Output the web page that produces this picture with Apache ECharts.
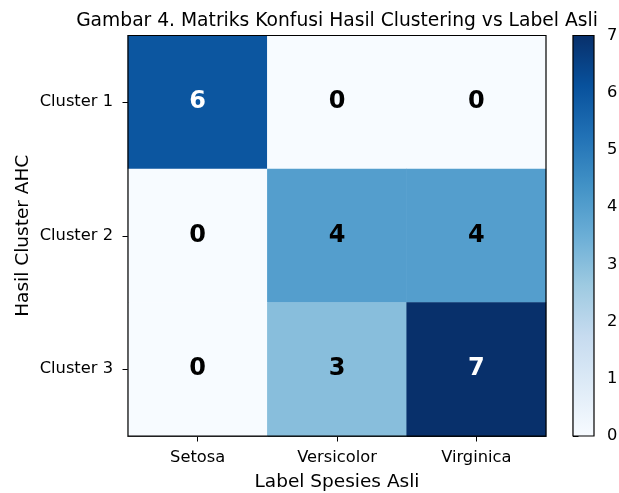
<!DOCTYPE html>
<html>
<head>
<meta charset="utf-8">
<script src="https://cdn.jsdelivr.net/npm/echarts@6/dist/echarts.min.js"></script>
<style>html,body{margin:0;padding:0;background:#fff}#c{width:619px;height:493px}</style>
</head>
<body>
<div id="c"></div>
<script>
const titleText = 'Gambar 4. Matriks Konfusi Hasil Clustering vs Label Asli';
const xCategories = ['Setosa', 'Versicolor', 'Virginica'];
const yCategories = ['Cluster 1', 'Cluster 2', 'Cluster 3'];
const matrix = [
  [6, 0, 0],
  [0, 4, 4],
  [0, 3, 7]
];
const colorbarTicks = [0, 1, 2, 3, 4, 5, 6, 7];
const xName = 'Label Spesies Asli';
const yName = 'Hasil Cluster AHC';

const vmin = 0, vmax = 7;
const whiteTextAbove = 4.5;
const blues = ['#f7fbff','#deebf7','#c6dbef','#9ecae1','#6baed6','#4292c6','#2171b5','#08519c','#08306b'];
const font = 'DejaVu Sans';

const data = [];
matrix.forEach((row, yi) => row.forEach((v, xi) => {
  data.push({ value: [xi, yi, v], label: { color: v > whiteTextAbove ? '#ffffff' : '#000000' } });
}));

const gradStops = blues.map((c, i) => ({ offset: 1 - i / (blues.length - 1), color: c }));

const chart = echarts.init(document.getElementById('c'), null, { renderer: 'canvas' });
chart.setOption({
  animation: false,
  backgroundColor: '#ffffff',
  textStyle: { fontFamily: font },
  title: {
    text: titleText, left: 332, textAlign: 'center', top: 7,
    textStyle: { fontFamily: font, fontWeight: 'normal', fontSize: 18.7, color: '#000' }
  },
  grid: [
    { left: 128, top: 35.5, width: 418, height: 400.5, show: true, borderColor: '#000', borderWidth: 1.2,
      backgroundColor: 'transparent', z: 10, containLabel: false, outerBoundsMode: 'none' },
    { left: 573, top: 35.5, width: 21, height: 400.5, show: true, borderColor: '#000', borderWidth: 1.2,
      backgroundColor: 'transparent', z: 10, containLabel: false, outerBoundsMode: 'none' }
  ],
  xAxis: [
    {
      gridIndex: 0, type: 'category', data: xCategories,
      name: xName, nameLocation: 'middle', nameGap: 37, nameMoveOverlap: false,
      nameTextStyle: { fontFamily: font, fontSize: 18.5, color: '#000' },
      axisLine: { show: true, lineStyle: { color: '#000', width: 1.2 } },
      axisTick: { show: true, alignWithLabel: true, length: 5.5, lineStyle: { color: '#000' } },
      axisLabel: { fontFamily: font, fontSize: 16.3, color: '#000', margin: 14 },
      splitLine: { show: false }, splitArea: { show: false }
    },
    {
      gridIndex: 1, type: 'value', min: 0, max: 1,
      axisLine: { show: false }, axisTick: { show: false }, axisLabel: { show: false }, splitLine: { show: false }
    }
  ],
  yAxis: [
    {
      gridIndex: 0, type: 'category', data: yCategories, inverse: true,
      name: yName, nameLocation: 'middle', nameGap: 95, nameRotate: 90, nameMoveOverlap: false,
      nameTextStyle: { fontFamily: font, fontSize: 18.5, color: '#000' },
      axisLine: { show: true, lineStyle: { color: '#000', width: 1.2 } },
      axisTick: { show: true, alignWithLabel: true, length: 5.5, lineStyle: { color: '#000' } },
      axisLabel: { fontFamily: font, fontSize: 16.3, color: '#000', margin: 15 },
      splitLine: { show: false }, splitArea: { show: false }
    },
    {
      gridIndex: 1, type: 'value', min: vmin, max: vmax, interval: 1, position: 'right',
      axisLine: { show: true, lineStyle: { color: '#000', width: 1.2 } },
      axisTick: { show: true, length: 5.5, lineStyle: { color: '#000' } },
      axisLabel: { fontFamily: font, fontSize: 16.3, color: '#000', margin: 13,
        formatter: v => colorbarTicks.indexOf(v) >= 0 ? String(v) : '' },
      splitLine: { show: false }
    }
  ],
  visualMap: {
    show: false, type: 'continuous', min: vmin, max: vmax, seriesIndex: 0,
    inRange: { color: blues }
  },
  series: [
    {
      type: 'heatmap', xAxisIndex: 0, yAxisIndex: 0, data: data,
      label: { show: true, fontFamily: font, fontWeight: 'bold', fontSize: 24 },
      itemStyle: { borderWidth: 0 },
      emphasis: { disabled: true }
    },
    {
      type: 'custom', xAxisIndex: 1, yAxisIndex: 1, silent: true,
      data: [[0, vmin, 1, vmax]],
      renderItem: function (params, api) {
        const p0 = api.coord([api.value(0), api.value(3)]);
        const p1 = api.coord([api.value(2), api.value(1)]);
        return {
          type: 'rect',
          shape: { x: p0[0], y: p0[1], width: p1[0] - p0[0], height: p1[1] - p0[1] },
          style: { fill: new echarts.graphic.LinearGradient(0, 0, 0, 1, gradStops) }
        };
      }
    }
  ]
});
</script>
</body>
</html>
